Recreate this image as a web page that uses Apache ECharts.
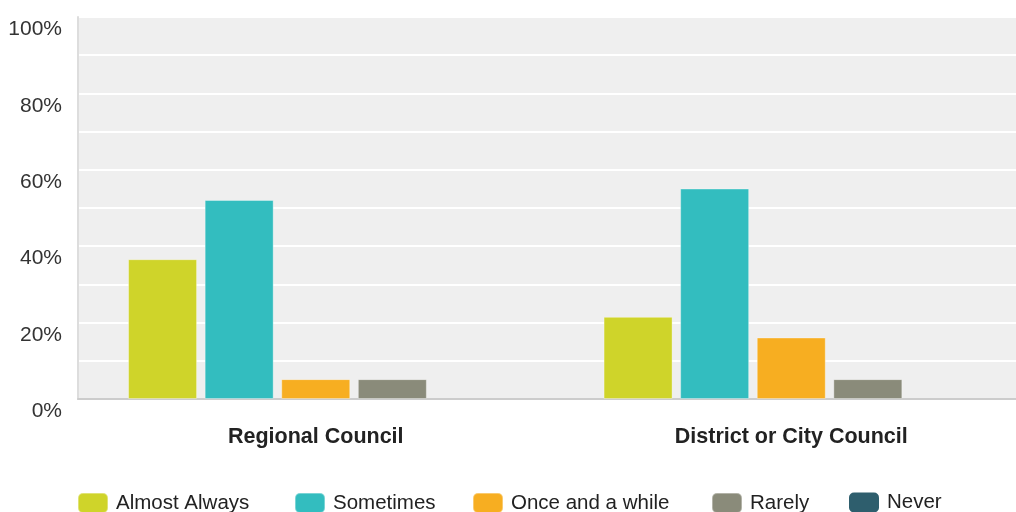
<!DOCTYPE html>
<html>
<head>
<meta charset="utf-8">
<script src="https://cdn.jsdelivr.net/npm/echarts@6/dist/echarts.min.js"></script>
<style>
html,body{margin:0;padding:0;background:#fff;overflow:hidden;width:1016px;height:512px;}
#c{width:1029px;height:512px;}
</style>
</head>
<body>
<div id="c"></div>
<script>
var categories = ['Regional Council', 'District or City Council'];
var seriesNames = ['Almost Always', 'Sometimes', 'Once and a while', 'Rarely', 'Never'];
var almostAlways = [36.6, 21.5];
var sometimes = [52.1, 55.1];
var onceAndAWhile = [5.2, 16.1];
var rarely = [5.2, 5.2];
var never = [0, 0];
var colors = ['#cfd42a', '#33bdbf', '#f7ae21', '#8a8b7a', '#2e5e6d'];
var values = [almostAlways, sometimes, onceAndAWhile, rarely, never];
var legendLeft = [77, 294, 472, 711, 849];

var chart = echarts.init(document.getElementById('c'), null, {renderer: 'canvas'});
var font = '"Liberation Sans", Arial, sans-serif';
var series = seriesNames.map(function (name, i) {
  return {
    name: name,
    type: 'bar',
    data: values[i],
    barWidth: 69,
    barGap: '11%',
    itemStyle: {
      color: colors[i],
      borderColor: 'rgba(255,255,255,0.35)',
      borderWidth: i === 4 ? 0 : 1
    }
  };
});
var legends = seriesNames.map(function (name, i) {
  return {
    left: legendLeft[i], top: 492, padding: 0,
    itemWidth: 30, itemHeight: 20,
    icon: 'roundRect',
    textStyle: {fontFamily: font, fontSize: 20.5, color: '#222', padding: [0, 0, 0, 3]},
    data: [name]
  };
});
chart.setOption({
  animation: false,
  color: colors,
  grid: {left: 78, right: 0, top: 17, bottom: 113, containLabel: false,
         show: true, backgroundColor: '#efefef', borderWidth: 0},
  legend: legends,
  xAxis: {
    type: 'category',
    data: categories,
    axisLine: {show: true, lineStyle: {color: '#cccccc', width: 2}},
    axisTick: {show: false},
    splitLine: {show: false},
    axisLabel: {fontFamily: font, fontSize: 21.5, fontWeight: 'bold', color: '#222', margin: 27}
  },
  yAxis: {
    type: 'value',
    min: 0, max: 100, interval: 10,
    axisLine: {show: true, lineStyle: {color: '#dddddd', width: 2}},
    axisTick: {show: false},
    splitLine: {show: true, lineStyle: {color: '#ffffff', width: 2}},
    axisLabel: {
      fontFamily: font, fontSize: 21, color: '#333', margin: 16,
      verticalAlign: 'top', padding: [2, 0, 0, 0],
      formatter: function (v) { return v % 20 === 0 ? v + '%' : ''; }
    }
  },
  series: series
});
</script>
</body>
</html>
